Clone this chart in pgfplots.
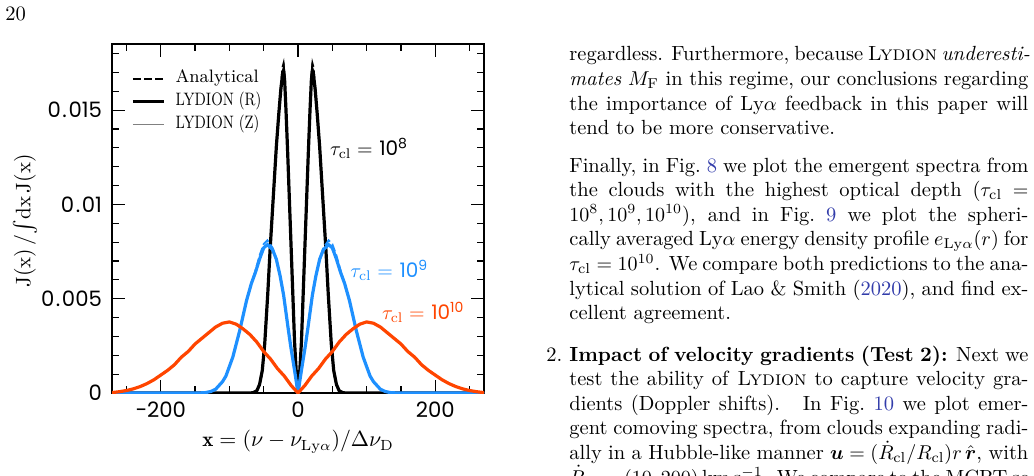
\documentclass[border=0pt]{standalone}
\usepackage{fontspec}
\usepackage{amsmath}
\usepackage{graphicx}
\usepackage{pgfplots}
\usepackage{pgfplotstable}
\pgfplotsset{compat=1.18}
\newfontfamily\tickfont[Numbers=Monospaced]{Poppins}
\definecolor{tauBlue}{RGB}{30,144,255}
\definecolor{tauRed}{RGB}{255,69,0}
\definecolor{linkblue}{RGB}{50,60,170}
% decimal point with the wider spacing of the tick labels
\newcommand{\pd}{\kern0.8pt.\kern0.8pt}
% narrow-set legend entries
\newcommand{\narrow}[1]{\scalebox{0.8}[1]{#1}}

% emergent spectra, tau_cl = 1e8 (LYDION R)
\pgfplotstableread{
x y
-271 0
-70 0
-65 0.00002
-60 0.00012
-56 0.00045
-52 0.0012
-48.5 0.0026
-44 0.0053
-40.5 0.0077
-38 0.0092
-35 0.0110
-31.5 0.0131
-28 0.0148
-25 0.0161
-22.5 0.0169
-21 0.0171
-19.5 0.0166
-17.5 0.0150
-15 0.0127
-12.5 0.0102
-10 0.0077
-7.5 0.0052
-5 0.0027
-2.5 0.0011
0 0
2.5 0.0011
5 0.0027
7.5 0.0052
10 0.0077
12.5 0.0102
15 0.0127
17.5 0.0150
19.5 0.0166
21 0.0171
22.5 0.0169
25 0.0161
28 0.0148
31.5 0.0131
35 0.0110
38 0.0092
40.5 0.0077
44 0.0053
48.5 0.0026
52 0.0012
56 0.00045
60 0.00012
65 0.00002
70 0
271 0
}\tabBlackR

% analytical solution, tau_cl = 1e8
\pgfplotstableread{
x y
-271 0
-70 0
-65 0.00002
-60 0.00012
-56 0.00045
-52 0.0012
-48.5 0.0026
-44 0.0053
-40.5 0.0077
-38 0.0092
-35 0.0110
-31.5 0.0131
-28 0.0149
-25 0.0163
-22.5 0.0173
-21 0.0175
-19.5 0.0169
-17.5 0.0151
-15 0.0127
-12.5 0.0102
-10 0.0077
-7.5 0.0052
-5 0.0027
-2.5 0.0011
0 0
2.5 0.0011
5 0.0027
7.5 0.0052
10 0.0077
12.5 0.0102
15 0.0127
17.5 0.0151
19.5 0.0169
21 0.0175
22.5 0.0173
25 0.0163
28 0.0149
31.5 0.0131
35 0.0110
38 0.0092
40.5 0.0077
44 0.0053
48.5 0.0026
52 0.0012
56 0.00045
60 0.00012
65 0.00002
70 0
271 0
}\tabBlackA

% emergent spectra, tau_cl = 1e9 (LYDION R)
\pgfplotstableread{
x y
-271 0
-145 0
-135 0.00002
-127 0.00008
-120 0.0002
-115 0.0004
-110 0.0006
-105 0.0009
-100 0.0014
-95 0.0019
-90 0.0026
-85 0.0033
-80 0.0041
-75 0.0049
-68 0.0058
-62 0.0064
-56 0.0071
-50 0.0077
-44.5 0.00787
-37 0.0076
-31.6 0.0071
-26 0.0062
-21 0.0052
-15 0.0036
-10.7 0.0025
-5 0.0012
0 0
5 0.0012
10.7 0.0025
15 0.0036
21 0.0052
26 0.0062
31.6 0.0071
37 0.0076
44.5 0.00787
50 0.0077
56 0.0071
62 0.0064
68 0.0058
75 0.0049
80 0.0041
85 0.0033
90 0.0026
95 0.0019
100 0.0014
105 0.0009
110 0.0006
115 0.0004
120 0.0002
127 0.00008
135 0.00002
145 0
271 0
}\tabBlueR

% analytical solution, tau_cl = 1e9
\pgfplotstableread{
x y
-271 0
-145 0
-135 0.00002
-127 0.00008
-120 0.0002
-115 0.0004
-110 0.0006
-105 0.0009
-100 0.0014
-95 0.0019
-90 0.0026
-85 0.0033
-80 0.0041
-75 0.0049
-68 0.0058
-62 0.0065
-56 0.0073
-50 0.0079
-44.5 0.0081
-37 0.0077
-31.6 0.0071
-26 0.0062
-21 0.0052
-15 0.0036
-10.7 0.0025
-5 0.0012
0 0
5 0.0012
10.7 0.0025
15 0.0036
21 0.0052
26 0.0062
31.6 0.0071
37 0.0077
44.5 0.0081
50 0.0079
56 0.0073
62 0.0065
68 0.0058
75 0.0049
80 0.0041
85 0.0033
90 0.0026
95 0.0019
100 0.0014
105 0.0009
110 0.0006
115 0.0004
120 0.0002
127 0.00008
135 0.00002
145 0
271 0
}\tabBlueA

% emergent spectra, tau_cl = 1e10 (LYDION R; analytical coincides)
\pgfplotstableread{
x y
-271 0.00002
-260 0.00007
-250 0.00013
-240 0.00022
-230 0.00034
-220 0.0005
-210 0.0007
-200 0.00095
-190 0.0012
-180 0.0015
-170 0.0019
-160 0.0022
-150 0.0026
-140 0.0029
-130 0.0032
-120 0.0035
-110 0.0037
-100 0.00377
-90 0.00365
-80 0.0034
-70 0.0031
-60 0.0027
-50 0.0022
-40 0.0018
-30 0.0013
-20 0.0009
-10 0.0004
0 0
10 0.0004
20 0.0009
30 0.0013
40 0.0018
50 0.0022
60 0.0027
70 0.0031
80 0.0034
90 0.00365
100 0.00377
110 0.0037
120 0.0035
130 0.0032
140 0.0029
150 0.0026
160 0.0022
170 0.0019
180 0.0015
190 0.0012
200 0.00095
210 0.0007
220 0.0005
230 0.00034
240 0.00022
250 0.00013
260 0.00007
271 0.00002
}\tabRed

\newcommand{\jl}[1]{\hbox to 229.5pt{#1}}

\begin{document}
\begin{tikzpicture}[x=0.5pt,y=-0.5pt,
  body/.style={anchor=base west, inner sep=0pt, font=\fontsize{10.25}{12}\selectfont}]
\path[use as bounding box] (0,0) rectangle (1034,476);

\node[body] at (5,21) {20};

\begin{axis}[
  at={(56pt,-196.5pt)}, anchor=south west,
  scale only axis, width=186pt, height=174.5pt,
  xmin=-271, xmax=271, ymin=0, ymax=0.01851,
  scaled y ticks=false, scaled x ticks=false,
  axis line style={line width=0.9pt},
  tick align=inside,
  major tick length=6.5pt, minor tick length=3.5pt,
  every tick/.style={black, line width=0.6pt},
  xtick={-200,0,200}, xticklabels={−200,0,200},
  minor xtick={-250,-150,-100,-50,50,100,150,250},
  ytick={0,0.005,0.01,0.015}, yticklabels={0,0\pd005,0\pd01,0\pd015},
  minor ytick={0.001,0.002,0.003,0.004,0.006,0.007,0.008,0.009,0.011,0.012,0.013,0.014,0.016,0.017,0.018},
  ticklabel style={font=\tickfont\fontsize{10.6}{10.6}\selectfont},
  yticklabel style={xshift=-1.5pt},
  xticklabel style={yshift=-1pt},
  xlabel={$\mathbf{x} = (\nu - \nu_{\mathrm{Ly}\alpha})/\Delta\nu_{\mathrm{D}}$},
  ylabel={$\mathrm{J(x)}\,/\!\int\!\mathrm{dx}\,\mathrm{J(x)}$},
  label style={font=\fontsize{10.5}{12}\selectfont},
  x label style={at={(axis description cs:0.5,-0.14)}, anchor=center},
  y label style={at={(axis description cs:-0.234,0.493)}, anchor=center},
  legend style={at={(axis description cs:0.051,0.928)}, anchor=north west,
    draw=none, fill=none, inner sep=0pt, row sep=2.9pt, column sep=5pt,
    font=\fontsize{9}{10}\selectfont,
    nodes={inner sep=0pt, text height=6.5pt, text depth=2pt}},
  legend cell align=left,
  legend image code/.code={\draw[#1] (0pt,-0.5pt) -- (15.5pt,-0.5pt);},
]
\addlegendimage{black, line width=0.9pt, dash pattern=on 4pt off 1.6pt}
\addlegendentry{Analytical}
\addlegendimage{black, line width=1.6pt}
\addlegendentry{\narrow{LYDION (R)}}
\addlegendimage{gray, line width=0.8pt}
\addlegendentry{\narrow{LYDION (Z)}}

% tau_cl = 1e8
\addplot[forget plot, black!45, line width=0.7pt] table {\tabBlackR};
\addplot[forget plot, black, line width=1.6pt] table {\tabBlackR};
\addplot[forget plot, black, line width=0.9pt, dash pattern=on 4pt off 1.6pt] table {\tabBlackA};
% tau_cl = 1e9
\addplot[forget plot, tauBlue!50, line width=0.7pt] table {\tabBlueR};
\addplot[forget plot, tauBlue, line width=1.6pt] table {\tabBlueR};
\addplot[forget plot, tauBlue, line width=0.9pt, dash pattern=on 4pt off 1.6pt] table {\tabBlueA};
% tau_cl = 1e10
\addplot[forget plot, tauRed!50, line width=0.7pt] table {\tabRed};
\addplot[forget plot, tauRed, line width=1.6pt] table {\tabRed};
\addplot[forget plot, tauRed, line width=0.9pt, dash pattern=on 4pt off 1.6pt] table {\tabRed};

\node[anchor=west, inner sep=0pt, font=\fontsize{10}{12}\selectfont, black]
  at (axis cs:46.2,0.01299) {$\tau_{\mathrm{cl}} =$ {\tickfont 10$^{\mbox{\tickfont\fontsize{7}{7}\selectfont 8}}$}};
\node[anchor=west, inner sep=0pt, font=\fontsize{10}{12}\selectfont, text=tauBlue]
  at (axis cs:75.7,0.00651) {$\tau_{\mathrm{cl}} =$ {\tickfont 10$^{\mbox{\tickfont\fontsize{7}{7}\selectfont 9}}$}};
\node[anchor=west, inner sep=0pt, font=\fontsize{10}{12}\selectfont, text=tauRed]
  at (axis cs:122,0.00428) {$\tau_{\mathrm{cl}} =$ {\tickfont 10$^{\mbox{\tickfont\fontsize{7}{7}\selectfont 10}}$}};
\end{axis}

% text column
\node[body] at (569,61) {\jl{regardless. Furthermore, because \textsc{Lydion} \textit{underesti-}}};
\node[body] at (569,85.6) {\jl{\textit{mates} $M_{\mathrm{F}}$ in this regime, our conclusions regarding}};
\node[body] at (569,110.2) {\jl{the importance of Ly$\alpha$ feedback in this paper will}};
\node[body] at (569,134.8) {tend to be more conservative.};
\node[body] at (569,172) {\jl{Finally, in Fig.~{\color{linkblue}8} we plot the emergent spectra from}};
\node[body] at (569,196.6) {\jl{the clouds with the highest optical depth ($\tau_{\mathrm{cl}}$ $=$}};
\node[body] at (569,221.2) {\jl{$10^8, 10^9, 10^{10}$), and in Fig.~{\color{linkblue}9} we plot the spheri-}};
\node[body] at (569,245.8) {\jl{cally averaged Ly$\alpha$ energy density profile $e_{\mathrm{Ly}\alpha}(r)$ for}};
\node[body] at (569,270.4) {\jl{$\tau_{\mathrm{cl}} = 10^{10}$. We compare both predictions to the ana-}};
\node[body] at (569,295) {\jl{lytical solution of Lao \& Smith ({\color{linkblue}2020}), and find ex-}};
\node[body] at (569,319.6) {cellent agreement.};
\node[body] at (546,361) {2.};
\node[body] at (569,361) {\jl{\textbf{Impact of velocity gradients (Test 2):} Next we}};
\node[body] at (569,385.6) {\jl{test the ability of \textsc{Lydion} to capture velocity gra-}};
\node[body] at (569,410.2) {\jl{dients (Doppler shifts). \ In Fig.~{\color{linkblue}10} we plot emer-}};
\node[body] at (569,434.8) {\jl{gent comoving spectra, from clouds expanding radi-}};
\node[body] at (569,459.4) {\jl{ally in a Hubble-like manner $\boldsymbol{u} = (\dot{R}_{\mathrm{cl}}/R_{\mathrm{cl}})r\,\hat{\boldsymbol{r}}$, with}};
\node[body] at (569,484) {\jl{$\dot{R}_{\mathrm{cl}} = (10, 200)$\,km\,s$^{-1}$. We compare to the MCRT so-}};
\end{tikzpicture}
\end{document}
